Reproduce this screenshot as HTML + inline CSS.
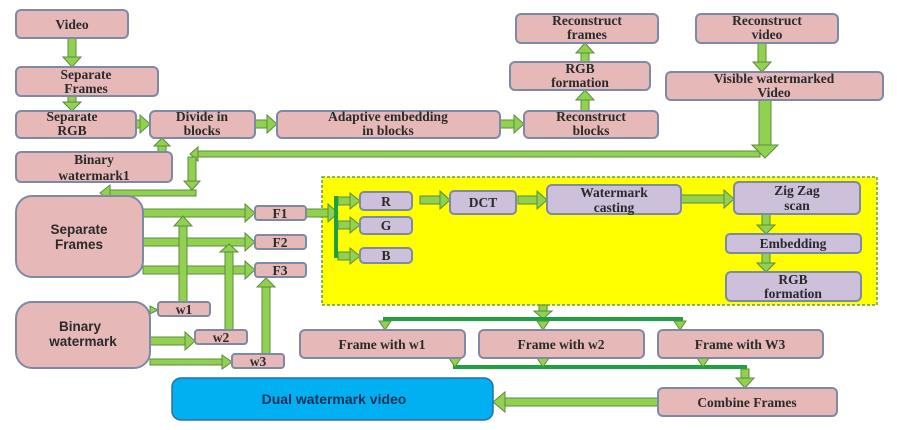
<!DOCTYPE html>
<html><head><meta charset="utf-8"><style>
html,body{margin:0;padding:0;background:#fff;width:897px;height:430px;overflow:hidden}
svg text{font-family:"Liberation Serif",serif;font-weight:bold;font-size:13.5px;fill:#2a2a2a;text-anchor:middle}
.s{font-family:"Liberation Sans",sans-serif}
.p{fill:#e6b9b8;stroke:#7d8aa6;stroke-width:2}
.v{fill:#ccc0da;stroke:#7d8aa6;stroke-width:2}
.a{fill:#92d050;stroke:#5b8c3e;stroke-width:1}
.g{fill:#1fa040}
</style></head><body>
<svg width="897" height="430" viewBox="0 0 897 430" xmlns="http://www.w3.org/2000/svg">
<rect x="322" y="177" width="555" height="128" fill="#ffff00" stroke="#5aa04a" stroke-width="1.5" stroke-dasharray="3,2"/>
<!-- arrows -->
<g class="a">
<rect x="68" y="38" width="8" height="19"/><polygon points="63,57 81,57 72,67"/>
<rect x="68" y="96" width="8" height="6"/><polygon points="63,102 81,102 72,111"/>
<rect x="120" y="120" width="20" height="8"/><polygon points="140,115 140,133 150,124"/>
<rect x="247" y="120" width="20" height="8"/><polygon points="267,115 267,133 277,124"/>
<rect x="500" y="120" width="14" height="8"/><polygon points="514,115 514,133 524,124"/>
<rect x="581" y="100" width="8" height="11"/><polygon points="576,100 594,100 585,90"/>
<rect x="581" y="53" width="8" height="9"/><polygon points="576,53 594,53 585,43"/>
<rect x="758" y="43" width="8" height="19"/><polygon points="753,62 771,62 762,72"/>
<rect x="195" y="151" width="565" height="6"/>
<rect x="759" y="100" width="12" height="45"/><polygon points="752,145 778,145 765,158"/>
<polygon points="198,147 198,161 190,154"/>
<rect x="188" y="157" width="8" height="24"/><polygon points="184,181 200,181 192,190"/>
<rect x="110" y="190" width="86" height="6"/><polygon points="110,185 110,201 100,193"/>
<rect x="158" y="146" width="8" height="6"/><polygon points="154,146 170,146 162,138"/>
<rect x="143" y="209" width="102" height="8"/><polygon points="245,204 245,222 255,213"/>
<rect x="143" y="238" width="102" height="8"/><polygon points="245,233 245,251 255,242"/>
<rect x="143" y="266" width="102" height="8"/><polygon points="245,261 245,279 255,270"/>
<rect x="179" y="226" width="8" height="76"/><polygon points="174,226 192,226 183,216"/>
<rect x="225" y="252" width="8" height="78"/><polygon points="220,252 238,252 229,244"/>
<rect x="262" y="287" width="8" height="67"/><polygon points="257,287 275,287 266,278"/>
<polygon points="150,306 150,314 158,310"/>
<rect x="150" y="337" width="35" height="8"/><polygon points="185,332 185,350 195,341"/>
<rect x="150" y="359" width="72" height="6"/><polygon points="222,355 222,369 232,362"/>
<rect x="306" y="209" width="22" height="8"/><polygon points="328,204 328,222 338,213"/>
<rect x="338" y="197" width="12" height="8"/><polygon points="350,193 350,209 360,201"/>
<rect x="338" y="221" width="12" height="8"/><polygon points="350,217 350,233 360,225"/>
<rect x="338" y="252" width="12" height="8"/><polygon points="350,248 350,264 360,256"/>
<rect x="420" y="196" width="20" height="8"/><polygon points="440,191 440,209 450,200"/>
<rect x="518" y="196" width="19" height="8"/><polygon points="537,191 537,209 547,200"/>
<rect x="681" y="195" width="43" height="8"/><polygon points="724,190 724,208 734,199"/>
<rect x="762" y="214" width="8" height="11"/><polygon points="757,225 775,225 766,234"/>
<rect x="762" y="253" width="8" height="10"/><polygon points="757,263 775,263 766,272"/>
<rect x="539" y="305" width="8" height="8"/><polygon points="534,311 552,311 543,319"/>
</g>
<rect x="334" y="196" width="4" height="62" class="g"/>
<rect x="383" y="317" width="300" height="4" class="g"/>
<rect x="453" y="365" width="294" height="4" class="g"/>
<g class="a">
<polygon points="379,321 391,321 385,330"/><polygon points="537,321 549,321 543,330"/><polygon points="674,321 686,321 680,330"/>
<polygon points="449,358 461,358 455,367"/><polygon points="537,358 549,358 543,367"/><polygon points="697,358 709,358 703,367"/>
<rect x="741" y="369" width="8" height="10"/><polygon points="736,378 754,378 745,388"/>
<rect x="505" y="398" width="153" height="8"/><polygon points="505,392 505,412 493,402"/>
</g>
<!-- boxes -->
<rect class="p" x="16" y="10" width="112" height="28" rx="5"/><text x="72" y="29">Video</text>
<rect class="p" x="16" y="67" width="142" height="29" rx="5"/><text x="86" y="79">Separate</text><text x="86" y="93">Frames</text>
<rect class="p" x="16" y="111" width="120" height="27" rx="5"/><text x="72" y="121">Separate</text><text x="72" y="135">RGB</text>
<rect class="p" x="150" y="111" width="105" height="27" rx="5"/><text x="202" y="121">Divide in</text><text x="202" y="135">blocks</text>
<rect class="p" x="277" y="111" width="223" height="27" rx="5"/><text x="388" y="121">Adaptive embedding</text><text x="388" y="135">in blocks</text>
<rect class="p" x="524" y="111" width="134" height="27" rx="5"/><text x="591" y="121">Reconstruct</text><text x="591" y="135">blocks</text>
<rect class="p" x="510" y="62" width="140" height="28" rx="5"/><text x="580" y="73">RGB</text><text x="580" y="87">formation</text>
<rect class="p" x="516" y="14" width="142" height="29" rx="5"/><text x="587" y="25">Reconstruct</text><text x="587" y="39">frames</text>
<rect class="p" x="696" y="14" width="142" height="29" rx="5"/><text x="767" y="25">Reconstruct</text><text x="767" y="39">video</text>
<rect class="p" x="666" y="72" width="217" height="28" rx="5"/><text x="774" y="83">Visible watermarked</text><text x="774" y="97">Video</text>
<rect class="p" x="16" y="152" width="156" height="30" rx="5"/><text x="94" y="164">Binary</text><text x="94" y="180">watermark1</text>
<rect class="p" x="16" y="196" width="127" height="81" rx="16"/><text class="s" x="79" y="234">Separate</text><text class="s" x="79" y="249">Frames</text>
<rect class="p" x="16" y="302" width="134" height="66" rx="16"/><text class="s" x="80" y="331">Binary</text><text class="s" x="83" y="346">watermark</text>
<rect class="p" x="255" y="206" width="51" height="14" rx="3"/><text x="280" y="218">F1</text>
<rect class="p" x="255" y="235" width="51" height="14" rx="3"/><text x="280" y="247">F2</text>
<rect class="p" x="255" y="263" width="51" height="14" rx="3"/><text x="280" y="275">F3</text>
<rect class="p" x="158" y="302" width="52" height="14" rx="3"/><text x="184" y="314">w1</text>
<rect class="p" x="195" y="330" width="52" height="14" rx="3"/><text x="221" y="342">w2</text>
<rect class="p" x="232" y="354" width="52" height="14" rx="3"/><text x="258" y="366">w3</text>
<rect class="v" x="360" y="192" width="52" height="18" rx="4"/><text x="386" y="206">R</text>
<rect class="v" x="360" y="217" width="52" height="17" rx="4"/><text x="386" y="230">G</text>
<rect class="v" x="360" y="248" width="52" height="15" rx="4"/><text x="386" y="260">B</text>
<rect class="v" x="450" y="191" width="66" height="23" rx="4"/><text x="483" y="207">DCT</text>
<rect class="v" x="547" y="185" width="134" height="29" rx="5"/><text x="614" y="197">Watermark</text><text x="614" y="212">casting</text>
<rect class="v" x="734" y="182" width="126" height="32" rx="5"/><text x="797" y="195">Zig Zag</text><text x="797" y="210">scan</text>
<rect class="v" x="726" y="234" width="135" height="19" rx="4"/><text x="793" y="248">Embedding</text>
<rect class="v" x="726" y="272" width="135" height="29" rx="5"/><text x="793" y="284">RGB</text><text x="793" y="298">formation</text>
<rect class="p" x="300" y="330" width="165" height="28" rx="5"/><text x="382" y="349">Frame with w1</text>
<rect class="p" x="479" y="330" width="165" height="28" rx="5"/><text x="561" y="349">Frame with w2</text>
<rect class="p" x="658" y="330" width="165" height="28" rx="5"/><text x="740" y="349">Frame with W3</text>
<rect x="172" y="378" width="321" height="42" rx="9" fill="#00b0f0" stroke="#2a6ea8" stroke-width="1.5"/><text class="s" x="334" y="404" style="fill:#10305a;font-size:14px">Dual watermark video</text>
<rect class="p" x="658" y="388" width="179" height="28" rx="5"/><text x="747" y="407">Combine Frames</text>
</svg>
</body></html>
